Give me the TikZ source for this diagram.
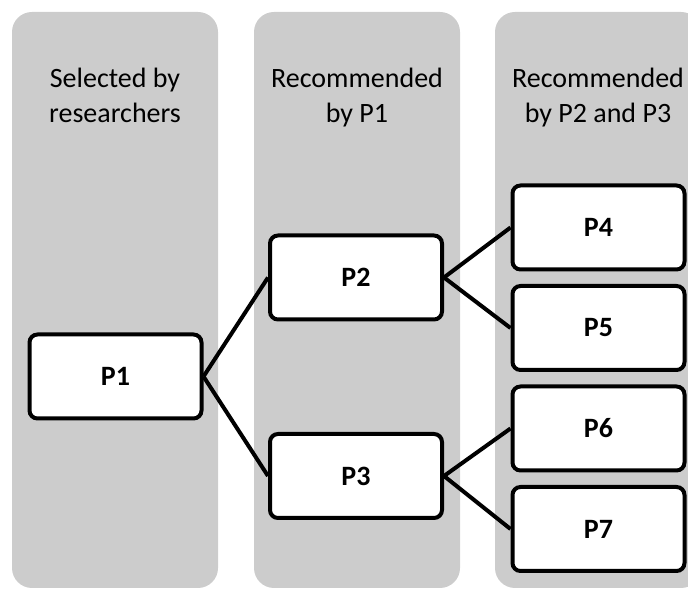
\documentclass[tikz,border=0pt]{standalone}
\usepackage{fontspec}
\setmainfont{Carlito}
\usepackage{tikz}
\usetikzlibrary{positioning}

\definecolor{colgray}{HTML}{CCCCCC}

\begin{document}
\begin{tikzpicture}[
    x=1pt, y=1pt,
    font=\fontsize{28}{35}\selectfont,
    column/.style={rectangle, rounded corners=20pt, fill=colgray,
                   minimum width=206pt, minimum height=576pt, inner sep=0pt},
    heading/.style={align=center, anchor=base, inner sep=0pt},
    pbox/.style={draw, line width=4pt, rounded corners=8pt, fill=white,
                 minimum width=172pt, minimum height=84pt,
                 font=\fontsize{28}{35}\selectfont\bfseries},
    link/.style={line width=4pt},
    node distance=12.5pt
]
\useasboundingbox (0,0) rectangle (688,589);

%% ---- background columns ---------------------------------------
\node[column] (selcol) at (115,289) {};
\node[column] (reccol) at (357,289) {};
\node[column] (subcol) at (598,289) {};

\node[heading] (selhead) at (115,466) {Selected by\\researchers};
\node[heading] (rechead) at (357,466) {Recommended\\by P1};
\node[heading] (subhead) at (598,466) {Recommended\\by P2 and P3};

%% ---- papers ----------------------------------------------------
\node[pbox] (p1) at (115.5,212.5) {P1};
\node[pbox] (p2) at (356,311.5)   {P2};
\node[pbox] (p3) at (356,113)     {P3};

\node[pbox] (p4) at (598.5,361.5) {P4};
\node[pbox, below=of p4] (p5) {P5};
\node[pbox, below=of p5] (p6) {P6};
\node[pbox, below=of p6] (p7) {P7};

\draw[link] (p1.east) -- (p2.west);
\draw[link] (p1.east) -- (p3.west);
\draw[link] (p2.east) -- (p4.west);
\draw[link] (p2.east) -- (p5.west);
\draw[link] (p3.east) -- (p6.west);
\draw[link] (p3.east) -- (p7.west);

\end{tikzpicture}
\end{document}
